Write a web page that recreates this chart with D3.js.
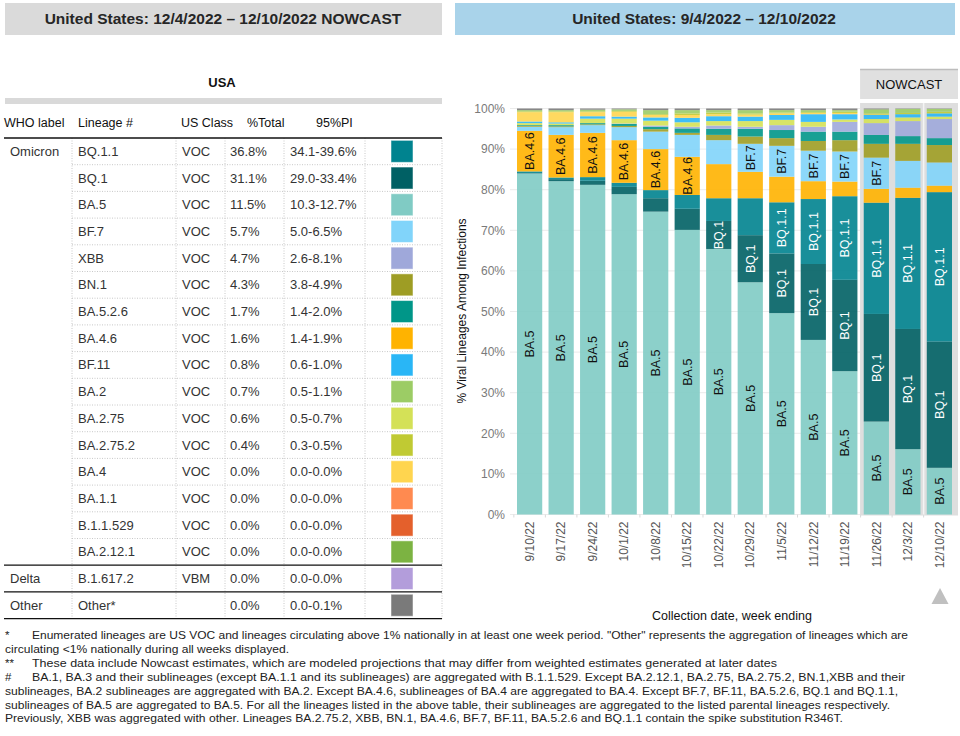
<!DOCTYPE html>
<html><head><meta charset="utf-8">
<script src="https://cdn.jsdelivr.net/npm/d3@7"></script>
<style>
html,body{margin:0;padding:0;background:#fff;}
svg{display:block;font-family:"Liberation Sans",Arial,sans-serif;}
</style></head>
<body>
<svg id="c" width="960" height="736"></svg>
<script>
// ---------- DATA ----------
const weeks = ["9/10/22","9/17/22","9/24/22","10/1/22","10/8/22","10/15/22","10/22/22","10/29/22","11/5/22","11/12/22","11/19/22","11/26/22","12/3/22","12/10/22"];
const nowcastWeeks = ["11/26/22","12/3/22","12/10/22"];
// stack order bottom -> top
const stackOrder = ["BA.5","BQ.1","BQ.1.1","BA.4.6","BF.7","BN.1","BA.5.2.6","XBB","BA.2.75","BF.11","BA.4","BA.2.75.2","BA.2","Other"];
const BA_5      = [84.0,82.1,81.2,78.9,74.6,70.1,65.4,57.2,49.6,43.0,35.3,22.9,16.1,11.5];
const BQ_1      = [0.1,0.5,1.0,1.8,3.3,5.2,6.9,11.6,14.7,18.7,22.5,26.5,29.6,31.1];
const BQ_1_1    = [0.4,0.4,0.9,1.0,2.0,3.4,5.6,9.1,12.6,16.0,20.6,27.4,32.3,36.8];
const BA_4_6    = [10.0,10.5,10.9,10.5,10.1,9.4,8.4,6.5,6.3,4.4,3.6,3.4,2.5,1.6];
const BF_7      = [1.0,1.9,1.9,3.2,4.3,5.4,5.9,6.9,7.6,7.5,7.4,7.7,6.6,5.7];
const BN_1      = [0.2,0.2,0.2,0.3,0.6,0.5,1.3,1.8,1.9,2.4,2.8,3.4,4.2,4.3];
const BA_5_2_6  = [0.2,0.3,0.3,0.5,0.6,1.1,1.5,1.9,2.0,2.3,2.1,2.2,1.9,1.7];
const XBB       = [0.0,0.0,0.0,0.1,0.3,0.4,0.8,0.5,1.2,1.2,2.4,2.9,3.7,4.7];
const BA_2_75   = [0.5,0.4,1.1,1.2,1.2,1.1,1.1,1.4,1.3,1.2,0.6,1.0,0.9,0.6];
const BF_11     = [0.4,0.3,0.6,0.5,0.8,1.1,1.2,1.1,1.2,1.9,1.3,1.0,0.8,0.8];
const BA_4      = [2.3,2.5,1.0,1.2,0.6,0.7,0.5,0.5,0.4,0.3,0.3,0.1,0.0,0.0];
const BA_2_75_2 = [0.2,0.2,0.2,0.2,0.2,0.4,0.4,0.3,0.2,0.2,0.3,0.3,0.3,0.4];
const BA_2      = [0.3,0.3,0.4,0.4,1.0,0.8,0.6,0.8,0.6,0.5,0.4,1.0,1.0,0.7];
const OTHER     = [0.4,0.4,0.3,0.2,0.4,0.4,0.4,0.4,0.4,0.4,0.4,0.2,0.1,0.1];
const seriesValues = {"BA.5":BA_5,"BQ.1":BQ_1,"BQ.1.1":BQ_1_1,"BA.4.6":BA_4_6,"BF.7":BF_7,"BN.1":BN_1,"BA.5.2.6":BA_5_2_6,"XBB":XBB,"BA.2.75":BA_2_75,"BF.11":BF_11,"BA.4":BA_4,"BA.2.75.2":BA_2_75_2,"BA.2":BA_2,"Other":OTHER};
const labelledLineages = ["BA.5","BQ.1","BQ.1.1","BA.4.6","BF.7"];
const yTicks = [0,10,20,30,40,50,60,70,80,90,100];

// table
const tableWho     = ["Omicron","","","","","","","","","","","","","","","","Delta","Other"];
const tableLineage = ["BQ.1.1","BQ.1","BA.5","BF.7","XBB","BN.1","BA.5.2.6","BA.4.6","BF.11","BA.2","BA.2.75","BA.2.75.2","BA.4","BA.1.1","B.1.1.529","BA.2.12.1","B.1.617.2","Other*"];
const tableClass   = ["VOC","VOC","VOC","VOC","VOC","VOC","VOC","VOC","VOC","VOC","VOC","VOC","VOC","VOC","VOC","VOC","VBM",""];
const tablePct     = ["36.8%","31.1%","11.5%","5.7%","4.7%","4.3%","1.7%","1.6%","0.8%","0.7%","0.6%","0.4%","0.0%","0.0%","0.0%","0.0%","0.0%","0.0%"];
const tablePI      = ["34.1-39.6%","29.0-33.4%","10.3-12.7%","5.0-6.5%","2.6-8.1%","3.8-4.9%","1.4-2.0%","1.4-1.9%","0.6-1.0%","0.5-1.1%","0.5-0.7%","0.3-0.5%","0.0-0.0%","0.0-0.0%","0.0-0.0%","0.0-0.0%","0.0-0.0%","0.0-0.1%"];
const tableHeaders = ["WHO label","Lineage #","US Class","%Total","95%PI"];
const groupBreaks  = [16,17]; // solid lines before these row indices

const lineageColors = {"BQ.1.1":"#00838f","BQ.1":"#006064","BA.5":"#80cbc4","BF.7":"#81d4fa","XBB":"#9fa8da","BN.1":"#9e9d24","BA.5.2.6":"#009688","BA.4.6":"#ffb300","BF.11":"#29b6f6","BA.2":"#9ccc65","BA.2.75":"#d4e157","BA.2.75.2":"#c0ca33","BA.4":"#ffd54f","BA.1.1":"#ff8a50","B.1.1.529":"#e4602c","BA.2.12.1":"#7cb342","B.1.617.2":"#b39ddb","Other*":"#7a7a7a","Other":"#7a7a7a"};

const footnotes = [
 {mark:"*", text:"Enumerated lineages are US VOC and lineages circulating above 1% nationally in at least one week period. \"Other\" represents the aggregation of lineages which are", x:32, w:876},
 {mark:"", text:"circulating <1% nationally during all weeks displayed.", x:5, w:284},
 {mark:"**", text:"These data include Nowcast estimates, which are modeled projections that may differ from weighted estimates generated at later dates", x:32, w:745},
 {mark:"#", text:"BA.1, BA.3 and their sublineages (except BA.1.1 and its sublineages) are aggregated with B.1.1.529. Except BA.2.12.1, BA.2.75, BA.2.75.2, BN.1,XBB and their", x:32, w:873},
 {mark:"", text:"sublineages, BA.2 sublineages are aggregated with BA.2. Except BA.4.6, sublineages of BA.4 are aggregated to BA.4. Except BF.7, BF.11, BA.5.2.6, BQ.1 and BQ.1.1,", x:5, w:893},
 {mark:"", text:"sublineages of BA.5 are aggregated to BA.5. For all the lineages listed in the above table, their sublineages are aggregated to the listed parental lineages respectively.", x:5, w:885},
 {mark:"", text:"Previously, XBB was aggregated with other. Lineages BA.2.75.2, XBB, BN.1, BA.4.6, BF.7, BF.11, BA.5.2.6 and BQ.1.1 contain the spike substitution R346T.", x:5, w:838}
];

// ---------- DRAW ----------
const svg = d3.select("#c");

// Title boxes
svg.append("rect").attr("x",5).attr("y",3).attr("width",437).attr("height",32).attr("fill","#dadada");
svg.append("text").attr("x",223).attr("y",24).attr("text-anchor","middle").attr("font-size",15.5).attr("font-weight","bold").attr("fill","#262626")
  .text("United States: 12/4/2022 \u2013 12/10/2022 NOWCAST");
svg.append("rect").attr("x",455).attr("y",3).attr("width",500).attr("height",32).attr("fill","#a9d3ea");
svg.append("text").attr("x",704).attr("y",24).attr("text-anchor","middle").attr("font-size",15.5).attr("font-weight","bold").attr("fill","#262626")
  .text("United States: 9/4/2022 \u2013 12/10/2022");

// ---------- TABLE ----------
const T = svg.append("g");
T.append("text").attr("x",222).attr("y",87).attr("text-anchor","middle").attr("font-size",13).attr("font-weight","bold").attr("fill","#111").text("USA");
T.append("rect").attr("x",5).attr("y",98).attr("width",437).attr("height",6).attr("fill","#d9d9d9");
const headerX = [4,78,181,247,316];
tableHeaders.forEach((h,i)=>T.append("text").attr("x",headerX[i]).attr("y",127).attr("font-size",12.5).attr("fill","#111").text(h));
const rowTop = 138, rowH = 26.7, nRows = tableLineage.length;
const rowY = d3.scaleLinear().domain([0,nRows]).range([rowTop,rowTop+nRows*rowH]);
// dotted vertical lines
[72,176,225,284,365,442].forEach(x=>T.append("line").attr("x1",x).attr("x2",x).attr("y1",rowTop).attr("y2",rowY(nRows))
  .attr("stroke","#c8c8c8").attr("stroke-width",1).attr("stroke-dasharray","1,1.5"));
// dotted horizontal lines
d3.range(1,nRows).forEach(i=>{
  if(groupBreaks.includes(i)) return;
  T.append("line").attr("x1",72).attr("x2",442).attr("y1",rowY(i)).attr("y2",rowY(i))
    .attr("stroke","#c8c8c8").attr("stroke-width",1).attr("stroke-dasharray","1,1.5");
});
// solid lines
[0,...groupBreaks,nRows].forEach(i=>T.append("line").attr("x1",4).attr("x2",442).attr("y1",rowY(i)).attr("y2",rowY(i))
  .attr("stroke","#111").attr("stroke-width",1.3));
tableLineage.forEach((l,i)=>{
  const cy = rowY(i)+rowH/2;
  const tc = "#333";
  if(tableWho[i]) T.append("text").attr("x",10).attr("y",cy+4.5).attr("font-size",13).attr("fill",tc).text(tableWho[i]);
  T.append("text").attr("x",78).attr("y",cy+4.5).attr("font-size",13).attr("fill",tc).text(l);
  T.append("text").attr("x",182).attr("y",cy+4.5).attr("font-size",13).attr("fill",tc).text(tableClass[i]);
  T.append("text").attr("x",230).attr("y",cy+4.5).attr("font-size",13).attr("fill",tc).text(tablePct[i]);
  T.append("text").attr("x",290).attr("y",cy+4.5).attr("font-size",13).attr("fill",tc).text(tablePI[i]);
  T.append("rect").attr("x",391).attr("y",cy-11).attr("width",22).attr("height",22)
    .attr("fill",lineageColors[l]).attr("stroke","#ffffff").attr("stroke-opacity",0.5).attr("stroke-width",1);
});

// ---------- CHART ----------
const x = d3.scaleBand().domain(weeks).range([513.85,955.15]).paddingInner(0.2).paddingOuter(0.1);
const y = d3.scaleLinear().domain([0,100]).range([514.5,108.5]);
const C = svg.append("g");

// nowcast panel
const nx0 = x(nowcastWeeks[0]) - (x.step()-x.bandwidth())/2 - 0.5;
const nx1 = 958;
C.append("rect").attr("x",nx0).attr("y",103).attr("width",nx1-nx0).attr("height",y(0)-103+1).attr("fill","#dedede");
C.append("rect").attr("x",nx0).attr("y",69).attr("width",nx1-nx0).attr("height",30).attr("fill","#e0e0e0");
C.append("line").attr("x1",nx0).attr("x2",nx1).attr("y1",69.5).attr("y2",69.5).attr("stroke","#bdbdbd").attr("stroke-width",1.5);
C.append("text").attr("x",(nx0+nx1)/2).attr("y",89).attr("text-anchor","middle").attr("font-size",13).attr("fill","#111").text("NOWCAST");
// white separator between last two nowcast weeks
const sepX = x(nowcastWeeks[2]) - (x.step()-x.bandwidth())/2;
C.append("line").attr("x1",sepX).attr("x2",sepX).attr("y1",103).attr("y2",y(0)+1).attr("stroke","#f4f4f4").attr("stroke-width",1.5);

// gridlines
C.append("g").selectAll("line").data(yTicks).join("line")
  .attr("x1",510).attr("x2",nx0).attr("y1",d=>y(d)).attr("y2",d=>y(d))
  .attr("stroke","#ebebeb").attr("stroke-width",1);

// y axis
const yAxis = d3.axisLeft(y).tickValues(yTicks).tickFormat(d=>d+"%").tickSize(0).tickPadding(4);
const yg = C.append("g").attr("transform","translate(509,0)").call(yAxis);
yg.select(".domain").remove();
yg.selectAll("text").attr("font-size",12).attr("fill","#7a7a7a").attr("font-family","Liberation Sans, Arial, sans-serif");

// x axis
const xAxis = d3.axisBottom(x).tickSize(0).tickPadding(0);
const xg = C.append("g").attr("transform",`translate(0,${y(0)})`).call(xAxis);
xg.select(".domain").remove();
xg.selectAll("text").attr("font-size",12).attr("fill","#555").attr("font-family","Liberation Sans, Arial, sans-serif")
  .attr("transform","rotate(-90)").attr("text-anchor","end").attr("dx","-7").attr("dy","0.35em").attr("x",0).attr("y",0);
// small ticks between bars
C.append("g").selectAll("line").data(weeks).join("line")
  .attr("x1",d=>x(d)-(x.step()-x.bandwidth())/2).attr("x2",d=>x(d)-(x.step()-x.bandwidth())/2)
  .attr("y1",y(0)).attr("y2",y(0)+3).attr("stroke","#d9d9d9");

// stacked bars
const rows = weeks.map((w,i)=>{const o={week:w}; stackOrder.forEach(k=>o[k]=seriesValues[k][i]); return o;});
const stacked = d3.stack().keys(stackOrder)(rows);
const layers = C.append("g").selectAll("g").data(stacked).join("g")
  .attr("fill",d=>lineageColors[d.key]).attr("fill-opacity",0.9);
layers.selectAll("rect").data(d=>d).join("rect")
  .attr("x",d=>x(d.data.week)).attr("width",x.bandwidth())
  .attr("y",d=>y(d[1])).attr("height",d=>Math.max(0,y(d[0])-y(d[1])));

// labels: only segments tall enough for the name
const minLabelPct = name => name.length <= 4 ? 6.7 : 9.2;
const lab = C.append("g");
stacked.filter(s=>labelledLineages.includes(s.key)).forEach(s=>{
  s.forEach(d=>{
    if(d[1]-d[0] < minLabelPct(s.key)) return;
    const cx = x(d.data.week)+x.bandwidth()/2, cy = (y(d[0])+y(d[1]))/2;
    const dark = (s.key==="BQ.1"||s.key==="BQ.1.1");
    lab.append("text").attr("transform",`translate(${cx+4.3},${cy}) rotate(-90)`)
      .attr("text-anchor","middle").attr("font-size",12.5).attr("fill",dark?"#ffffff":"#111").text(s.key);
  });
});

// axis titles
C.append("text").attr("transform","translate(466,311) rotate(-90)").attr("text-anchor","middle").attr("font-size",12).attr("fill","#111")
  .text("% Viral Lineages Among Infections");
C.append("text").attr("x",732).attr("y",620).attr("text-anchor","middle").attr("font-size",12.5).attr("fill","#111")
  .text("Collection date, week ending");
// triangle
C.append("path").attr("d","M940,588 L948.5,604 L931.5,604 Z").attr("fill","#c0c0c0");

// ---------- FOOTNOTES ----------
const F = svg.append("g").attr("font-size",11.5).attr("fill","#222");
footnotes.forEach((f,i)=>{
  const by = 639 + i*13.9;
  if(f.mark) F.append("text").attr("x",5).attr("y",by).text(f.mark);
  F.append("text").attr("x",f.x).attr("y",by).attr("textLength",f.w).attr("lengthAdjust","spacingAndGlyphs").text(f.text);
});
</script>
</body></html>
